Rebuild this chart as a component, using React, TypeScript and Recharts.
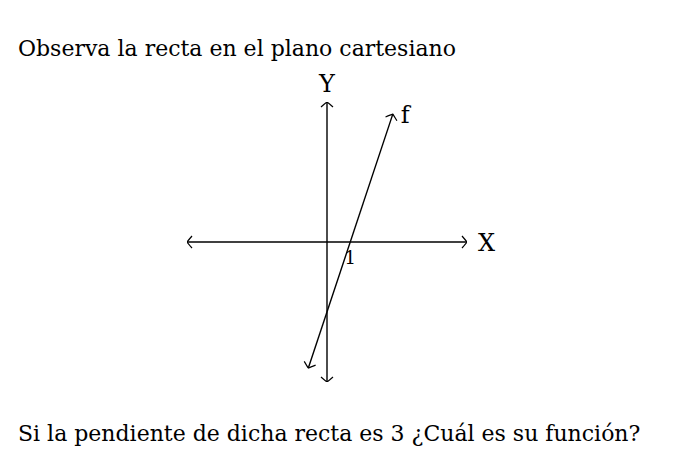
import React from "react";
import { LineChart, Line, XAxis, YAxis, ReferenceDot } from "recharts";

const axisRange = [-6, 6];
const xAxisLine = [
  { x: -6, y: 0 },
  { x: 6, y: 0 },
];
const yAxisLine = [
  { x: 0, y: -6 },
  { x: 0, y: 6 },
];
const lineF = [
  { x: -0.8, y: -5.4 },
  { x: 2.82, y: 5.48 },
];
const titleText = "Observa la recta en el plano cartesiano";
const questionText = "Si la pendiente de dicha recta es 3 ¿Cuál es su función?";
const tickLabel = "1";

const FONT = "'DejaVu Serif', serif";

export default function App() {
  return (
    <div style={{ position: "absolute", left: 0, top: 0, width: 687, height: 455, background: "#fff" }}>
      <svg width={0} height={0} style={{ position: "absolute" }}>
        <defs>
          <marker
            id="chev"
            viewBox="-8 -8 10 16"
            refX={0}
            refY={0}
            markerWidth={10}
            markerHeight={16}
            markerUnits="userSpaceOnUse"
            orient="auto-start-reverse"
          >
            <path d="M -5 -6 Q -1.2 -1.6 0 0 Q -1.2 1.6 -5 6" fill="none" stroke="#000" strokeWidth={1.2} />
          </marker>
        </defs>
      </svg>
      <LineChart width={687} height={455} margin={{ top: 102, right: 220, bottom: 73, left: 187 }}>
        <XAxis type="number" dataKey="x" domain={axisRange} hide allowDataOverflow />
        <YAxis type="number" dataKey="y" domain={axisRange} hide allowDataOverflow />
        <Line
          data={xAxisLine}
          dataKey="y"
          stroke="#000"
          strokeWidth={1.4}
          dot={false}
          isAnimationActive={false}
          markerStart="url(#chev)"
          markerEnd="url(#chev)"
        />
        <Line
          data={yAxisLine}
          dataKey="y"
          stroke="#000"
          strokeWidth={1.4}
          dot={false}
          isAnimationActive={false}
          markerStart="url(#chev)"
          markerEnd="url(#chev)"
        />
        <Line
          data={lineF}
          dataKey="y"
          stroke="#000"
          strokeWidth={1.4}
          dot={false}
          isAnimationActive={false}
          markerStart="url(#chev)"
          markerEnd="url(#chev)"
        />
        <ReferenceDot x={6} y={0} r={0} fill="none" stroke="none"
          label={{ value: "X", position: "right", offset: 11, fill: "#000", fontSize: 24, fontFamily: FONT }} />
        <ReferenceDot x={0} y={6} r={0} fill="none" stroke="none"
          label={{ value: "Y", position: "top", offset: 10, fill: "#000", fontSize: 24, fontFamily: FONT }} />
        <ReferenceDot x={2.82} y={5.48} r={0} fill="none" stroke="none"
          label={{ value: "f", position: "right", offset: 8, fill: "#000", fontSize: 24, fontFamily: FONT }} />
        <ReferenceDot x={1} y={0} r={0} fill="none" stroke="none"
          label={{ value: tickLabel, position: "bottom", offset: 9, fill: "#000", fontSize: 18, fontFamily: FONT }} />
      </LineChart>
      <svg width={687} height={455} style={{ position: "absolute", left: 0, top: 0, pointerEvents: "none" }}>
        <text x={18} y={55.5} fontFamily={FONT} fontSize={22} fill="#000">{titleText}</text>
        <text x={18} y={441} fontFamily={FONT} fontSize={22} fill="#000">{questionText}</text>
      </svg>
    </div>
  );
}
